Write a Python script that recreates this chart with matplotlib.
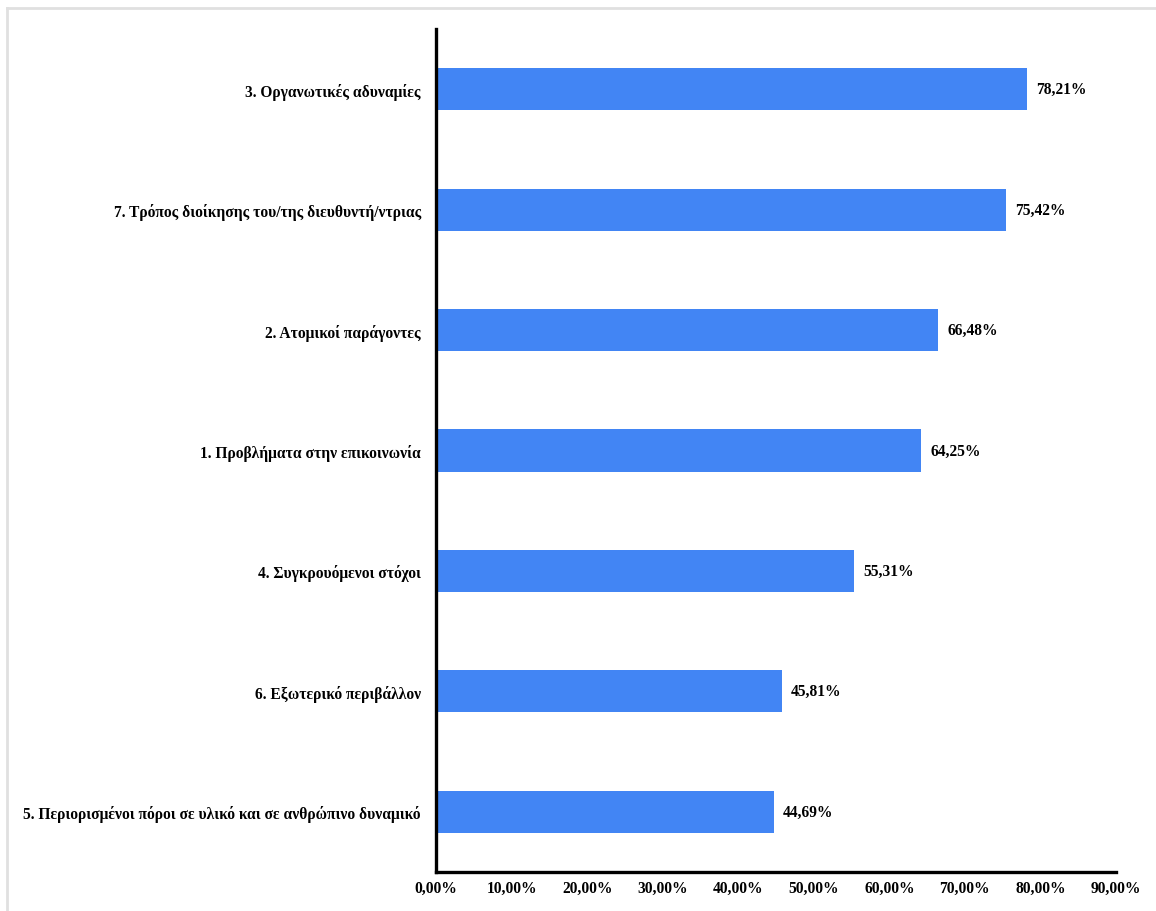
import matplotlib.pyplot as plt
from matplotlib.lines import Line2D

categories = [
    "5. Περιορισμένοι πόροι σε υλικό και σε ανθρώπινο δυναμικό",
    "6. Εξωτερικό περιβάλλον",
    "4. Συγκρουόμενοι στόχοι",
    "1. Προβλήματα στην επικοινωνία",
    "2. Ατομικοί παράγοντες",
    "7. Τρόπος διοίκησης του/της διευθυντή/ντριας",
    "3. Οργανωτικές αδυναμίες",
]
values = [44.69, 45.81, 55.31, 64.25, 66.48, 75.42, 78.21]
xticks = [0, 10, 20, 30, 40, 50, 60, 70, 80, 90]

plt.rcParams['font.family'] = ['Liberation Serif', 'DejaVu Serif']
plt.rcParams['font.weight'] = 'bold'
FS = 11.2

fig = plt.figure(figsize=(11.56, 9.12), dpi=100)
ax = fig.add_axes([0.3772, 0.0428, 0.5882, 0.9243])

y = range(len(categories))
ax.barh(y, values, height=0.35, color='#4285F4')

for yi, v in zip(y, values):
    ax.text(v + 1.2, yi, f"{v:.2f}%".replace('.', ','), va='center', ha='left',
            fontsize=FS, fontweight='bold')

ax.set_xlim(0, 90)
ax.set_ylim(-0.5, 6.5)
ax.set_yticks(list(y))
ax.set_yticklabels(categories, fontsize=FS, fontweight='bold')
ax.set_xticks(xticks)
ax.set_xticklabels([f"{t:.2f}%".replace('.', ',') for t in xticks],
                   fontsize=FS, fontweight='bold')
ax.tick_params(axis='both', length=0)
ax.tick_params(axis='y', pad=11)
ax.tick_params(axis='x', pad=6)

for side in ['top', 'right']:
    ax.spines[side].set_visible(False)
for side in ['left', 'bottom']:
    ax.spines[side].set_linewidth(2.4)
    ax.spines[side].set_color('black')

# light frame along the top and left edge
fig.add_artist(Line2D([7 / 1156, 1], [1 - 9 / 912, 1 - 9 / 912],
                      transform=fig.transFigure, color='#e0e0e0', lw=2))
fig.add_artist(Line2D([7 / 1156, 7 / 1156], [0, 1 - 9 / 912],
                      transform=fig.transFigure, color='#e0e0e0', lw=2))

fig.savefig('out.png', dpi=100)
